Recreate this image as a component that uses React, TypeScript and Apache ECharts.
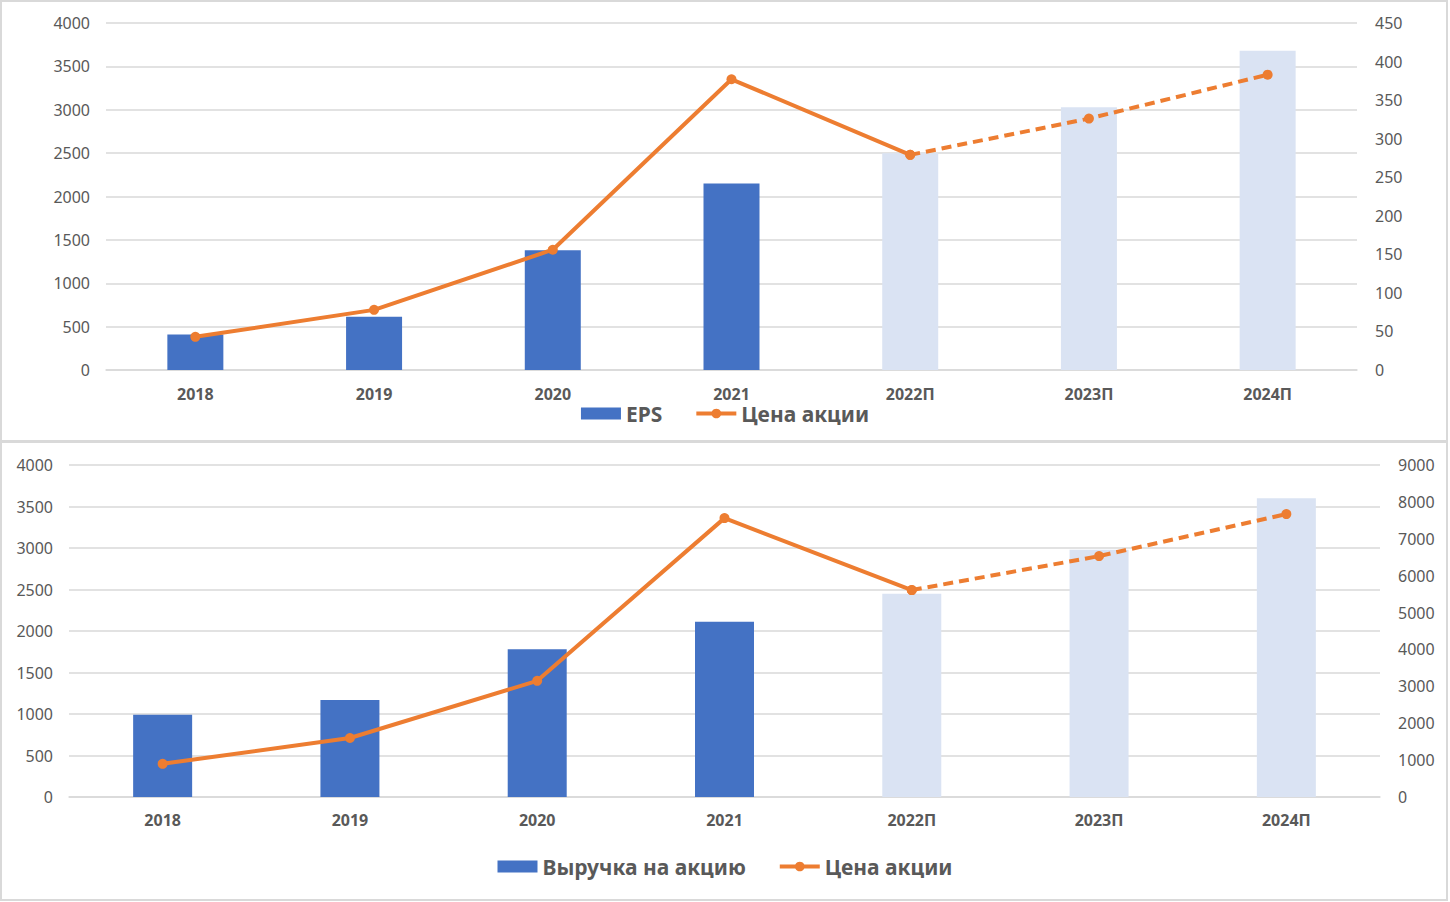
import React, { useEffect, useRef } from "react";
import * as echarts from "echarts";

const categories = ["2018", "2019", "2020", "2021", "2022П", "2023П", "2024П"];
const epsValues = [410, 615, 1380, 2150, 2500, 3030, 3680];
const priceTop = [43, 78, 156, 377, 279, 326, 383];
const revenueValues = [990, 1170, 1780, 2110, 2450, 2980, 3600];
const priceBottom = [900, 1600, 3150, 7560, 5610, 6530, 7670];
const forecastStart = 4;

const BLUE = "#4472C4";
const LIGHT = "#DAE3F3";
const ORANGE = "#ED7D31";
const GRID = "#d9d9d9";
const TXT = "#595959";
const FONT = "Noto Sans";

function barData(vals: number[]) {
  return vals.map((v, i) => ({
    value: v,
    itemStyle: { color: i >= forecastStart ? LIGHT : BLUE },
  }));
}
function solidPart(vals: number[]) {
  return vals.map((v, i) => (i <= forecastStart ? v : null));
}
function dashedPart(vals: number[]) {
  return vals.map((v, i) => (i >= forecastStart ? v : null));
}

export default function App() {
  const ref = useRef<HTMLDivElement>(null);
  useEffect(() => {
    const chart = echarts.init(ref.current!, null, { renderer: "svg" });
    const yLabel = { color: TXT, fontSize: 16, fontFamily: FONT, formatter: (v: number) => String(v) };
    const xLabel = { color: TXT, fontSize: 16, fontWeight: "bold" as const, fontFamily: FONT };
    const lineCommon = {
      type: "line" as const,
      symbol: "circle",
      symbolSize: 10,
      itemStyle: { color: ORANGE },
      connectNulls: false,
    };
    const legendCommon = {
      left: "center",
      itemWidth: 40,
      itemHeight: 12,
      itemGap: 32,
      lineStyle: { width: 4 },
      textStyle: { color: TXT, fontSize: 21, fontWeight: "bold", fontFamily: FONT },
    };
    chart.setOption({
      animation: false,
      textStyle: { fontFamily: FONT },
      graphic: [
        { type: "rect", shape: { x: 1, y: 1, width: 1446, height: 440 }, style: { fill: "none", stroke: GRID, lineWidth: 2 } },
        { type: "rect", shape: { x: 1, y: 442, width: 1446, height: 458 }, style: { fill: "none", stroke: GRID, lineWidth: 2 } },
      ],
      grid: [
        { left: 106, right: 93, top: 23, height: 347 },
        { left: 69, right: 70, top: 465, height: 332 },
      ],
      legend: [
        {
          ...legendCommon,
          data: [{ name: "EPS", icon: "rect" }, { name: "Цена акции" }],
          top: 398,
        },
        {
          ...legendCommon,
          data: [{ name: "Выручка на акцию", icon: "rect" }, { name: "Цена акции" }],
          top: 851,
        },
      ],
      xAxis: [
        {
          type: "category",
          gridIndex: 0,
          data: categories,
          axisLine: { lineStyle: { color: GRID, width: 1.5 } },
          axisTick: { show: false },
          axisLabel: { ...xLabel, margin: 16 },
        },
        {
          type: "category",
          gridIndex: 1,
          data: categories,
          axisLine: { lineStyle: { color: GRID, width: 1.5 } },
          axisTick: { show: false },
          axisLabel: { ...xLabel, margin: 15 },
        },
      ],
      yAxis: [
        {
          type: "value", gridIndex: 0, min: 0, max: 4000, interval: 500,
          axisLabel: { ...yLabel, margin: 16 },
          splitLine: { lineStyle: { color: GRID, width: 1.5 } },
          axisLine: { show: false }, axisTick: { show: false },
        },
        {
          type: "value", gridIndex: 0, min: 0, max: 450, interval: 50, position: "right",
          axisLabel: { ...yLabel, margin: 18 },
          splitLine: { show: false },
          axisLine: { show: false }, axisTick: { show: false },
        },
        {
          type: "value", gridIndex: 1, min: 0, max: 4000, interval: 500,
          axisLabel: { ...yLabel, margin: 16 },
          splitLine: { lineStyle: { color: GRID, width: 1.5 } },
          axisLine: { show: false }, axisTick: { show: false },
        },
        {
          type: "value", gridIndex: 1, min: 0, max: 9000, interval: 1000, position: "right",
          axisLabel: { ...yLabel, margin: 18 },
          splitLine: { show: false },
          axisLine: { show: false }, axisTick: { show: false },
        },
      ],
      series: [
        {
          name: "EPS", type: "bar", xAxisIndex: 0, yAxisIndex: 0, barWidth: 56,
          itemStyle: { color: BLUE }, data: barData(epsValues),
        },
        {
          ...lineCommon, name: "Цена акции", xAxisIndex: 0, yAxisIndex: 1,
          lineStyle: { color: ORANGE, width: 4 }, data: solidPart(priceTop),
        },
        {
          ...lineCommon, name: "Цена акции", xAxisIndex: 0, yAxisIndex: 1,
          lineStyle: { color: ORANGE, width: 4, type: [10, 6] }, data: dashedPart(priceTop),
        },
        {
          name: "Выручка на акцию", type: "bar", xAxisIndex: 1, yAxisIndex: 2, barWidth: 59,
          itemStyle: { color: BLUE }, data: barData(revenueValues),
        },
        {
          ...lineCommon, name: "Цена акции", xAxisIndex: 1, yAxisIndex: 3,
          lineStyle: { color: ORANGE, width: 4 }, data: solidPart(priceBottom),
        },
        {
          ...lineCommon, name: "Цена акции", xAxisIndex: 1, yAxisIndex: 3,
          lineStyle: { color: ORANGE, width: 4, type: [10, 6] }, data: dashedPart(priceBottom),
        },
      ],
    });
    return () => chart.dispose();
  }, []);
  return (
    <div
      ref={ref}
      style={{ position: "fixed", left: 0, top: 0, width: 1450, height: 902, background: "#fff" }}
    />
  );
}
